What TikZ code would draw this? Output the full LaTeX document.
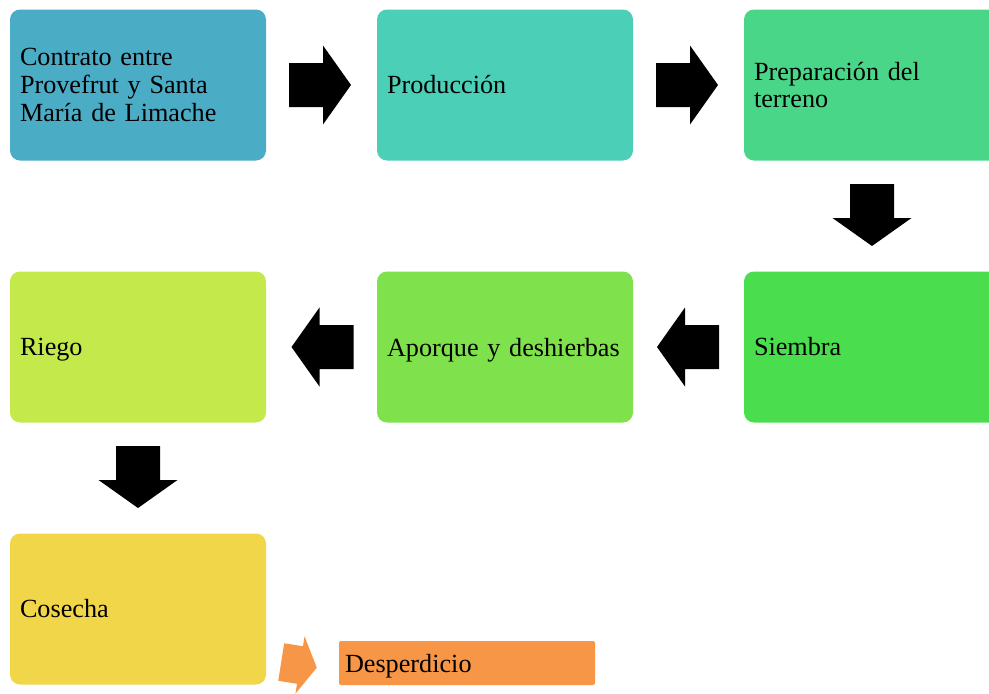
\documentclass[tikz,border=0pt]{standalone}
\usepackage{fontspec}
\setmainfont{Liberation Serif}
\usetikzlibrary{calc}
\definecolor{cA}{RGB}{75,172,198}
\definecolor{cB}{RGB}{75,207,183}
\definecolor{cC}{RGB}{74,214,136}
\definecolor{cD}{RGB}{74,222,78}
\definecolor{cE}{RGB}{127,226,76}
\definecolor{cF}{RGB}{195,234,74}
\definecolor{cG}{RGB}{242,214,74}
\definecolor{cH}{RGB}{247,150,70}
\tikzset{
  stagebox/.style={rectangle, rounded corners=10pt, minimum width=256pt, minimum height=151pt,
    text width=236pt, inner xsep=10pt, inner ysep=0pt, align=left,
    font=\fontsize{26.2}{27.8}\selectfont, text=black},
  blockarrow/.style={fill=black},
}
\newcommand{\blkarrow}[3]{% center, angle, style
  \fill[#3, shift={#1}, rotate=#2] (-31,-22) -- (3,-22) -- (3,-39.5) -- (31,0) -- (3,39.5) -- (3,22) -- (-31,22) -- cycle;}
\begin{document}
\begin{tikzpicture}[x=1pt,y=-1pt]
\clip (0,0) rectangle (989,694);
\fill[white] (0,0) rectangle (989,694);
\node[stagebox, fill=cA] (b1) at (138,85) {Contrato entre\\Provefrut y Santa\\María de Limache};
\node[stagebox, fill=cB] (b2) at (505,85) {Producción};
\node[stagebox, fill=cC] (b3) at (872,85) {Preparación del\\terreno};
\node[stagebox, fill=cD] (b4) at (872,347) {Siembra};
\node[stagebox, fill=cE, text depth=0pt] (b5) at (505,347) {Aporque y deshierbas};
\node[stagebox, fill=cF, text depth=0pt] (b6) at (138,347) {Riego};
\node[stagebox, fill=cG] (b7) at (138,609) {Cosecha};
\node[rectangle, rounded corners=2pt, fill=cH, minimum width=256pt, minimum height=44pt,
  text width=244pt, inner xsep=6pt, inner ysep=0pt, align=left, text depth=0pt,
  font=\fontsize{26.2}{27.8}\selectfont] (b8) at (467,663) {Desperdicio};
% block arrows between stages
\blkarrow{($(b1.east)!0.5!(b2.west)+(-1.5,0)$)}{0}{blockarrow}
\blkarrow{($(b2.east)!0.5!(b3.west)+(-1.5,0)$)}{0}{blockarrow}
\blkarrow{($(b3.south)!0.5!(b4.north)+(0,-1)$)}{-90}{blockarrow}
\blkarrow{($(b4.west)!0.5!(b5.east)+(-0.5,0)$)}{180}{blockarrow}
\blkarrow{($(b5.west)!0.5!(b6.east)+(1,0)$)}{180}{blockarrow}
\blkarrow{($(b6.south)!0.5!(b7.north)+(0,-1)$)}{-90}{blockarrow}
% orange arrow towards Desperdicio
\coordinate (oa) at (300,665);
\fill[cH, shift={(oa)}, rotate=-9] (-19,-19) -- (0,-19) -- (0,-29) -- (17,0) -- (0,29) -- (0,19) -- (-19,19) -- cycle;
\end{tikzpicture}
\end{document}
